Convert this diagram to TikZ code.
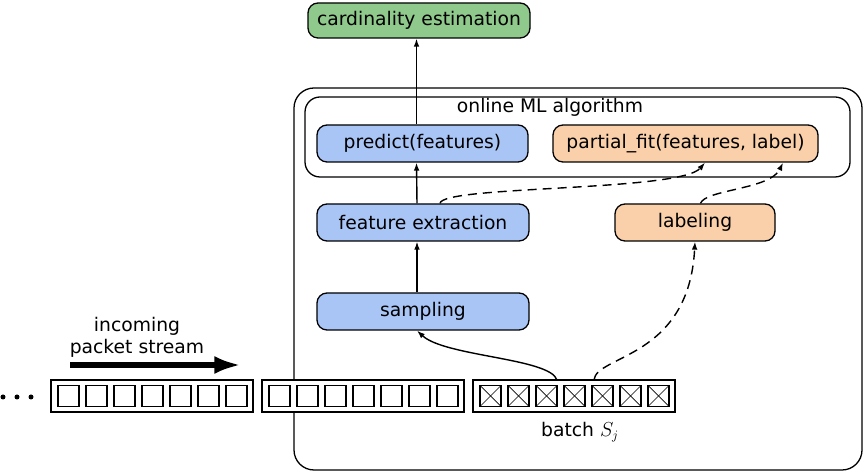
\documentclass[tikz,border=0pt]{standalone}
\usepackage{fontspec}
\setmainfont{DejaVu Sans}
\usepackage{tikz}
\usetikzlibrary{arrows.meta}

\definecolor{boxgreen}{RGB}{143,201,139}
\definecolor{boxblue}{RGB}{169,197,246}
\definecolor{boxorange}{RGB}{249,208,170}

\begin{document}
\begin{tikzpicture}[x=0.3mm, y=-0.3mm]
\tikzset{ >={Latex[length=2.4mm,width=1.7mm]},
  box/.style={draw, rounded corners=3mm, line width=1.1pt, minimum height=11.1mm,
    inner sep=0pt, font=\fontsize{16}{19}\selectfont},
  frame/.style={draw, line width=1.1pt},
  cell/.style={draw, line width=1.3pt},
  link/.style={->, line width=1.2pt},
  dlink/.style={link, dash pattern=on 2.7mm off 1.8mm},
  txt/.style={font=\fontsize{16}{19}\selectfont, align=center},
}

\useasboundingbox (0,0) rectangle (865,475);
%\draw [lightgray, dashed](0,0) grid[step=50] (865,475);

% frames
\draw [frame, rounded corners=6mm] (294,88) rectangle (862,470);
\draw [frame, rounded corners=4.5mm] (305,97) rectangle (850,177);
\node [txt] (ML) at (550,107) {online ML algorithm};

% boxes
\node [box, fill=boxgreen,  minimum width=66.6mm, minimum height=10.5mm] (card) at (419,20.5) {cardinality estimation};
\node [box, fill=boxblue,   minimum width=63.3mm] (pred) at (422.5,143.5) {predict(features)};
\node [box, fill=boxorange, minimum width=79.5mm] (fit)  at (685.5,143.5) {partial\_fit(features, label)};
\node [box, fill=boxblue,   minimum width=63.6mm] (feat) at (423,222.5) {feature extraction};
\node [box, fill=boxorange, minimum width=48.0mm] (lab)  at (695,222.5) {labeling};
\node [box, fill=boxblue,   minimum width=63.6mm] (samp) at (423,311.5) {sampling};

% packet stream
\foreach \bx in {51,262,473} {
  \draw [frame, fill=white] (\bx,380) rectangle +(202,32);
  \foreach \k in {0,...,6}
    \draw [cell] (\bx+7+28*\k,385.5) rectangle +(21,21);
}
\foreach \k in {0,...,6} {
  \draw [line width=0.6pt] (480+28*\k,385.5) -- +(21,21);
  \draw [line width=0.6pt] (480+28*\k,406.5) -- +(21,-21);
}
\foreach \dx in {3,17,31}
  \fill (\dx,397) circle (0.75mm);

\node [txt] (inc) at (137,337) {incoming\\packet stream};
\coordinate (s0) at (70,365);
\coordinate (s1) at (241,365);
\draw [line width=1.8mm, -{Latex[length=8mm,width=5.4mm]}] (s0) -- (s1);

\node [txt] (batch) at (580,432) {batch $S_j$};
\coordinate (o1) at (557,380);
\coordinate (o2) at (594,380);

% connectors
\draw [link] ([xshift=-1.8mm]samp.north) -- ([xshift=-1.8mm]feat.south);
\draw [link] ([xshift=-1.8mm]feat.north) -- ([xshift=-1.8mm]pred.south);
\draw [link] ([xshift=-1.8mm]pred.north) -- ([xshift=-1.8mm]pred.north |- card.south);

\draw [link] (o1) .. controls +(-7,-22) and +(28,26) .. ([xshift=-1.8mm]samp.south);
\draw [dlink] (o2) .. controls +(2,-25) and +(-6,117) .. (lab.south);

\draw [dlink] ([xshift=5.1mm]feat.north) .. controls +(2,-18) and +(-25,29) .. ([xshift=5.85mm]fit.south);
\draw [dlink] ([xshift=1.65mm]lab.north) .. controls +(5,-14) and +(-13,27) .. ([xshift=29.25mm]fit.south);

\end{tikzpicture}
\end{document}
